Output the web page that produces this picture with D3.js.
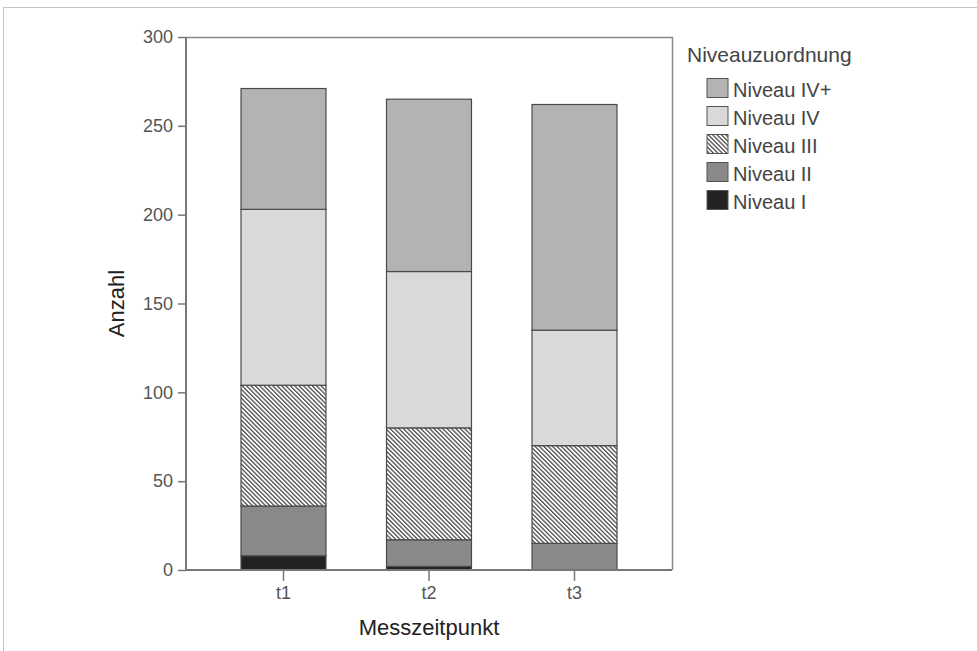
<!DOCTYPE html>
<html>
<head>
<meta charset="utf-8">
<script src="https://cdn.jsdelivr.net/npm/d3@7"></script>
<style>
  body { margin: 0; background: #fff; }
  svg { display: block; font-family: "Liberation Sans", Arial, sans-serif; }
</style>
</head>
<body>
<svg width="977" height="651"></svg>
<script>
"use strict";

// data
var times = ["t1", "t2", "t3"];
var levels = ["Niveau I", "Niveau II", "Niveau III", "Niveau IV", "Niveau IV+"];
var niveauI   = [8, 2, 0];
var niveauII  = [28, 15, 15];
var niveauIII = [68, 63, 55];
var niveauIV  = [99, 88, 65];
var niveauIVp = [68, 97, 127];
var yTicks = [0, 50, 100, 150, 200, 250, 300];

var rows = times.map(function(t, i) {
  return {
    t: t,
    "Niveau I": niveauI[i],
    "Niveau II": niveauII[i],
    "Niveau III": niveauIII[i],
    "Niveau IV": niveauIV[i],
    "Niveau IV+": niveauIVp[i]
  };
});

var svg = d3.select("svg");
var plotL = 186, plotR = 672, plotT = 37, plotB = 570;

// outer frame
svg.append("rect")
  .attr("x", 3.5).attr("y", 7.5)
  .attr("width", 990).attr("height", 660)
  .attr("fill", "none").attr("stroke", "#c4c4c4");

// diagonal hatch for Niveau III ("\" direction)
var defs = svg.append("defs");
var pat = defs.append("pattern")
  .attr("id", "hatch")
  .attr("patternUnits", "userSpaceOnUse")
  .attr("width", 3.1).attr("height", 3.1)
  .attr("patternTransform", "rotate(-45)");
pat.append("rect").attr("width", 3.1).attr("height", 3.1).attr("fill", "#fff");
pat.append("rect").attr("x", 0).attr("width", 1.3).attr("height", 3.1).attr("fill", "#4d4d4d");

var fills = {
  "Niveau I": "#222",
  "Niveau II": "#898989",
  "Niveau III": "url(#hatch)",
  "Niveau IV": "#d9d9d9",
  "Niveau IV+": "#b3b3b3"
};

var x = d3.scaleBand()
  .domain(times)
  .range([plotL, plotR])
  .paddingInner(0.416)
  .paddingOuter(0.378);

var y = d3.scaleLinear()
  .domain([0, 300])
  .range([plotB, plotT]);

// plot frame (top and right)
svg.append("path")
  .attr("d", "M" + plotL + "," + (plotT + 0.5) + "H" + (plotR + 0.5) + "V" + plotB)
  .attr("fill", "none").attr("stroke", "#888").attr("stroke-width", 1.5);

var stack = d3.stack().keys(levels)(rows);

svg.append("g")
  .selectAll("g")
  .data(stack)
  .enter().append("g")
    .attr("fill", function(d) { return fills[d.key]; })
  .selectAll("rect")
  .data(function(d) { return d; })
  .enter().append("rect")
    .attr("x", function(d) { return x(d.data.t); })
    .attr("y", function(d) { return y(d[1]); })
    .attr("width", x.bandwidth())
    .attr("height", function(d) { return y(d[0]) - y(d[1]); })
    .attr("stroke", "#4a4a4a")
    .attr("stroke-width", function(d) { return d[1] - d[0] > 0 ? 1.2 : 0; });

// axes
var yAxis = svg.append("g")
  .attr("transform", "translate(" + plotL + ",0)")
  .call(d3.axisLeft(y).tickValues(yTicks).tickSize(8).tickPadding(5));
var xAxis = svg.append("g")
  .attr("transform", "translate(0," + plotB + ")")
  .call(d3.axisBottom(x).tickSize(11).tickPadding(5));

[yAxis, xAxis].forEach(function(a) {
  a.select(".domain").attr("stroke", "#777").attr("stroke-width", 2);
  a.selectAll(".tick line").attr("stroke", "#777").attr("stroke-width", 1.5);
  a.selectAll(".tick text").attr("fill", "#555").style("font-size", "18px");
});
xAxis.select(".domain").attr("d", "M" + plotL + ",0H" + plotR);
yAxis.select(".domain").attr("d", "M0," + plotB + "V" + plotT);

svg.append("text")
  .attr("transform", "translate(124," + ((plotT + plotB) / 2) + ") rotate(-90)")
  .attr("text-anchor", "middle")
  .attr("fill", "#222")
  .style("font-size", "22px")
  .text("Anzahl");

svg.append("text")
  .attr("x", (plotL + plotR) / 2)
  .attr("y", 635)
  .attr("text-anchor", "middle")
  .attr("fill", "#222")
  .style("font-size", "22px")
  .text("Messzeitpunkt");

// legend
var lg = svg.append("g").attr("transform", "translate(687,0)");
lg.append("text")
  .attr("x", 0).attr("y", 62)
  .attr("fill", "#444")
  .style("font-size", "21px")
  .text("Niveauzuordnung");

var item = lg.selectAll("g.item")
  .data(levels.slice().reverse())
  .enter().append("g")
    .attr("class", "item")
    .attr("transform", function(d, i) { return "translate(20," + (78.5 + i * 28) + ")"; });

item.append("rect")
  .attr("width", 21).attr("height", 19)
  .attr("fill", function(d) { return fills[d]; })
  .attr("stroke", "#555");

item.append("text")
  .attr("x", 26).attr("y", 18)
  .attr("fill", "#444")
  .style("font-size", "20px")
  .text(function(d) { return d; });
</script>
</body>
</html>
